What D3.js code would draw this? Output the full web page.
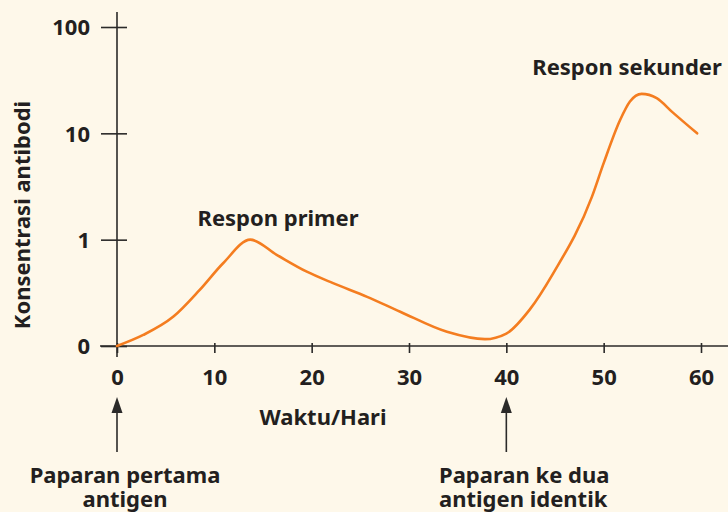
<!DOCTYPE html>
<html>
<head>
<meta charset="utf-8">
<script src="https://cdn.jsdelivr.net/npm/d3@7"></script>
<style>
  html, body { margin: 0; padding: 0; background: #fef8ea; }
  svg { display: block; }
  text { font-family: "Noto Sans", "Open Sans", sans-serif; font-weight: 700; fill: #231f20; }
</style>
</head>
<body>
<svg id="chart" width="728" height="512"></svg>
<script>
// Antibody concentration over time (days); the floor value 0.1 is shown as "0"
const days          = [0, 2.7, 5.8, 8.5, 10.9, 13.7, 16.4, 19.5, 22.2, 25.7, 29.1, 33.9, 37.8, 40.0, 42.4, 44.8, 48.8, 50.0, 51.7, 52.7, 53.9, 55.45, 57.0, 59.6];
const concentration = [0.1, 0.127, 0.189, 0.337, 0.60, 1.0, 0.72, 0.50, 0.39, 0.29, 0.21, 0.136, 0.116, 0.131, 0.22, 0.48, 2.54, 5.24, 13.4, 19.9, 23.5, 21.4, 16.0, 10.0];

const xTicks = [0, 10, 20, 30, 40, 50, 60];
const yTicks = [0.1, 1, 10, 100];
const yTickLabels = ["0", "1", "10", "100"];

const responseLabels = ["Respon primer", "Respon sekunder"];
const exposureDays = [0, 40];
const exposureLabels = [["Paparan pertama", "antigen"], ["Paparan ke dua", "antigen identik"]];
const xTitle = "Waktu/Hari";
const yTitle = "Konsentrasi antibodi";

const svg = d3.select("#chart");
const ink = "#2b2a29";
const fs = 22;

const x = d3.scaleLinear().domain([0, 60]).range([117, 701]);
const y = d3.scaleLog().domain([0.1, 100]).range([346, 27]);

function styleText(sel) {
  sel.style("font-size", fs + "px")
    .style("font-family", '"Noto Sans", sans-serif')
    .style("font-weight", 700)
    .attr("fill", "#231f20");
}

// X axis
const xAxis = svg.append("g")
  .attr("transform", `translate(0,${y(0.1)})`)
  .call(d3.axisBottom(x).tickValues(xTicks).tickSize(7).tickPadding(0));
xAxis.select(".domain").remove();
xAxis.append("line")
  .attr("x1", 100).attr("x2", 728).attr("y1", 0).attr("y2", 0)
  .attr("stroke", ink).attr("stroke-width", 1.6);
xAxis.selectAll(".tick line").attr("y1", -3).attr("stroke", ink).attr("stroke-width", 1.6);
xAxis.selectAll(".tick text").attr("y", 39).attr("dy", 0).call(styleText);

// Y axis
const yAxis = svg.append("g")
  .attr("transform", `translate(${x(0)},0)`)
  .call(d3.axisLeft(y).tickValues(yTicks).tickFormat((d, i) => yTickLabels[i]).tickSize(16).tickPadding(0));
yAxis.select(".domain").remove();
yAxis.append("line")
  .attr("x1", 0).attr("x2", 0).attr("y1", 12).attr("y2", 357)
  .attr("stroke", ink).attr("stroke-width", 1.6);
yAxis.selectAll(".tick line").attr("x1", 10).attr("stroke", ink).attr("stroke-width", 1.6);
yAxis.selectAll(".tick text").attr("x", -27).attr("dy", "0.36em").call(styleText);

// Response curve
const line = d3.line()
  .x((d, i) => x(days[i]))
  .y(d => y(d))
  .curve(d3.curveMonotoneX);
svg.append("path")
  .attr("d", line(concentration))
  .attr("fill", "none")
  .attr("stroke", "#f47d20")
  .attr("stroke-width", 2.6)
  .attr("stroke-linejoin", "round")
  .attr("stroke-linecap", "round");

// Response labels
svg.append("text").attr("x", 278).attr("y", 226).attr("text-anchor", "middle")
  .call(styleText).text(responseLabels[0]);
svg.append("text").attr("x", 627).attr("y", 75).attr("text-anchor", "middle")
  .call(styleText).text(responseLabels[1]);

// Axis titles
svg.append("text").attr("x", 323).attr("y", 425).attr("text-anchor", "middle")
  .call(styleText).text(xTitle);
svg.append("text")
  .attr("transform", "translate(30,215) rotate(-90)")
  .attr("text-anchor", "middle")
  .call(styleText).text(yTitle);

// Exposure arrows
exposureDays.forEach(d => {
  const ax = x(d);
  svg.append("line").attr("x1", ax).attr("x2", ax).attr("y1", 408).attr("y2", 452)
    .attr("stroke", ink).attr("stroke-width", 1.6);
  svg.append("path")
    .attr("d", `M${ax},397 L${ax - 5.5},413 L${ax + 5.5},413 Z`)
    .attr("fill", ink);
});

// Exposure captions, two lines each
const cap1 = svg.append("text").attr("text-anchor", "middle").call(styleText);
cap1.append("tspan").attr("x", 125).attr("y", 483).text(exposureLabels[0][0]);
cap1.append("tspan").attr("x", 125).attr("y", 507).text(exposureLabels[0][1]);
const cap2 = svg.append("text").attr("text-anchor", "start").call(styleText);
cap2.append("tspan").attr("x", 439).attr("y", 483).text(exposureLabels[1][0]);
cap2.append("tspan").attr("x", 439).attr("y", 507).text(exposureLabels[1][1]);
</script>
</body>
</html>
